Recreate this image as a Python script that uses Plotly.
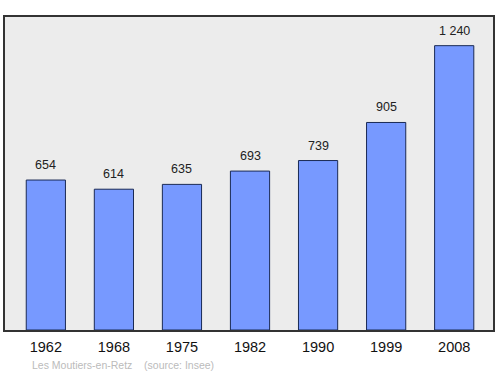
import plotly.graph_objects as go

years = ["1962", "1968", "1975", "1982", "1990", "1999", "2008"]
population = [654, 614, 635, 693, 739, 905, 1240]
labels = ["654", "614", "635", "693", "739", "905", "1 240"]

fig = go.Figure()
fig.add_trace(go.Bar(
    x=list(range(len(years))), y=population,
    width=0.576,
    marker=dict(color="#7799ff", line=dict(color="#1a2a55", width=1)),
    hoverinfo="skip",
))
for i, (v, t) in enumerate(zip(population, labels)):
    fig.add_annotation(x=i, y=v, text=t, showarrow=False, yanchor="bottom",
                       yshift=6, font=dict(size=12.5, color="#222"))

fig.add_annotation(xref="paper", yref="paper", x=(30-5)/490, y=-(365-330)/313,
                   text="Les Moutiers-en-Retz&nbsp;&nbsp;&nbsp;&nbsp;(source: Insee)",
                   showarrow=False, xanchor="left", yanchor="middle",
                   font=dict(size=10.5, color="#bbbbbb"))

fig.update_layout(
    width=500, height=374,
    margin=dict(l=5, r=5, t=17, b=44),
    paper_bgcolor="white", plot_bgcolor="#ececec",
    font=dict(family="Liberation Sans, Arial, sans-serif"),
    showlegend=False,
    xaxis=dict(range=[-0.6, 6.57], tickvals=list(range(len(years))), ticktext=years,
               showgrid=False, zeroline=False, showline=True, linecolor="#333",
               linewidth=1.5, mirror=True, ticks="", tickfont=dict(size=14.5, color="#111"),
               ticklabelstandoff=3),
    yaxis=dict(range=[0, 1365], showgrid=False, zeroline=False, showticklabels=False,
               showline=True, linecolor="#333", linewidth=1.5, mirror=True, ticks=""),
)
fig.write_html("out.html")
